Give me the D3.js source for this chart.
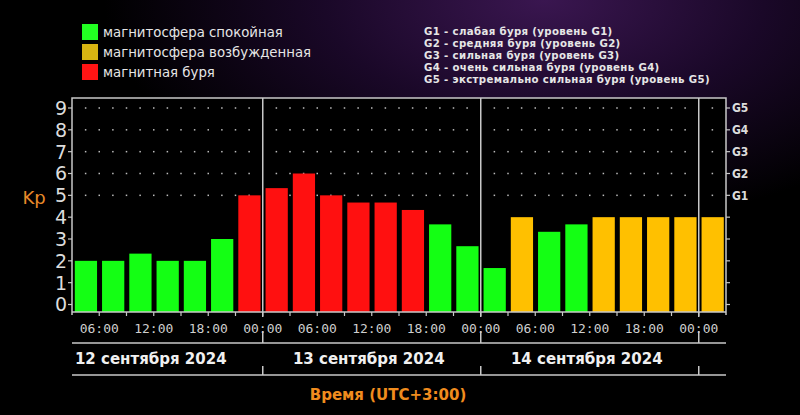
<!DOCTYPE html>
<html><head><meta charset="utf-8">
<script src="https://cdn.jsdelivr.net/npm/d3@7"></script>
<style>html,body{margin:0;padding:0;background:#000;}svg{display:block;}</style>
</head><body>
<svg id="c" width="800" height="415"></svg>
<script>
// ---- data ----
const kpValues = [2, 2, 2.33, 2, 2, 3, 5,
                  5.33, 6, 5, 4.67, 4.67, 4.33, 3.67, 2.67,
                  1.67, 4, 3.33, 3.67, 4, 4, 4, 4,
                  4];
const kpState = ["q","q","q","q","q","q","s",
                 "s","s","s","s","s","s","q","q",
                 "q","a","q","q","a","a","a","a",
                 "a"];
const startHour = 3;         // first bar starts 12 Sep 03:00
const barHours = 3;
const dayLabels = ["12 сентября 2024", "13 сентября 2024", "14 сентября 2024"];
const timeTickLabels = ["06:00","12:00","18:00","00:00","06:00","12:00","18:00","00:00","06:00","12:00","18:00","00:00"];
const kpTicks = [0,1,2,3,4,5,6,7,8,9];
const gLabels = ["G1","G2","G3","G4","G5"];
const gLevels = [5,6,7,8,9];
const legendItems = ["магнитосфера спокойная", "магнитосфера возбужденная", "магнитная буря"];
const legendStates = ["q","a","s"];
const gLegend = ["G1 - слабая буря (уровень G1)",
                 "G2 - средняя буря (уровень G2)",
                 "G3 - сильная буря (уровень G3)",
                 "G4 - очень сильная буря (уровень G4)",
                 "G5 - экстремально сильная буря (уровень G5)"];
const xTitle = "Время (UTC+3:00)";
const yTitle = "Kp";

// ---- layout ----
const barColor = {q:"#14ff14", a:"#ffc000", s:"#ff1010"};
const legendColor = {q:"#22ff22", a:"#d8b512", s:"#ff1414"};
const L = 72, R = 726, T = 98, B = 312;
const endHour = startHour + kpValues.length * barHours;
const x = d3.scaleLinear().domain([startHour, endHour]).range([L, R]);
const y = d3.scaleLinear().domain([0, 9]).range([304.5, 108]);

const svg = d3.select("#c");
const defs = svg.append("defs");
const g1 = defs.append("radialGradient").attr("id","glow").attr("cx","0.68").attr("cy","0.0").attr("r","0.55");
g1.append("stop").attr("offset","0").attr("stop-color","#3a1650");
g1.append("stop").attr("offset","0.5").attr("stop-color","#1a0828");
g1.append("stop").attr("offset","1").attr("stop-color","#000");
svg.append("rect").attr("width",800).attr("height",415).attr("fill","#000");
svg.append("rect").attr("width",800).attr("height",415).attr("fill","url(#glow)");

// plot background
svg.append("rect").attr("x",L).attr("y",T).attr("width",R-L).attr("height",B-T).attr("fill","#000");

// grid dots
const dotXs = d3.range(startHour + 1.5, endHour, 1.5).filter(h => (h % 24) !== 0);
gLevels.forEach(lv => {
  svg.append("g").selectAll("rect").data(dotXs).join("rect")
    .attr("x", d => x(d) - 0.75).attr("y", y(lv) - 0.75)
    .attr("width",1.5).attr("height",1.5).attr("fill","#bbb");
});

// bars
const slot = x(startHour + barHours) - x(startHour);
svg.append("g").selectAll("rect").data(kpValues).join("rect")
  .attr("x", (d,i) => x(startHour + i*barHours) + 2.8)
  .attr("width", slot - 5)
  .attr("y", d => y(d))
  .attr("height", d => B - y(d))
  .attr("fill", (d,i) => barColor[kpState[i]]);

const lineCol = "#c8c8c8";
// frame
svg.append("path").attr("d",`M${L},${B+3}V${T}H${R}V${B+3}`).attr("fill","none").attr("stroke",lineCol).attr("stroke-width",1.5);
svg.append("line").attr("x1",L).attr("x2",R).attr("y1",B).attr("y2",B).attr("stroke",lineCol).attr("stroke-width",1.5);

// day separators
const dayBounds = [24, 48, 72];
dayBounds.forEach(h => {
  const xx = x(h);
  svg.append("line").attr("x1",xx).attr("x2",xx).attr("y1",T).attr("y2",B+5).attr("stroke",lineCol).attr("stroke-width",1.5);
  svg.append("line").attr("x1",xx).attr("x2",xx).attr("y1",331).attr("y2",343).attr("stroke",lineCol).attr("stroke-width",1.5);
  svg.append("line").attr("x1",xx).attr("x2",xx).attr("y1",366).attr("y2",375).attr("stroke",lineCol).attr("stroke-width",1.5);
});

// left axis ticks & labels
kpTicks.forEach(v => {
  svg.append("line").attr("x1",L-4).attr("x2",L).attr("y1",y(v)).attr("y2",y(v)).attr("stroke",lineCol).attr("stroke-width",1.2);
  svg.append("line").attr("x1",R).attr("x2",R+4).attr("y1",y(v)).attr("y2",y(v)).attr("stroke",lineCol).attr("stroke-width",1.2);
});
svg.append("g").selectAll("text").data(kpTicks).join("text")
  .attr("x", 67).attr("y", d => y(d)).attr("dy","0.36em")
  .attr("text-anchor","end").attr("fill","#dcdcdc")
  .attr("font-family","DejaVu Sans, Verdana, sans-serif").attr("font-size",19)
  .text(d => d);

// right G labels
svg.append("g").selectAll("text").data(gLabels).join("text")
  .attr("x", 732).attr("y", (d,i) => y(gLevels[i])).attr("dy","0.36em")
  .attr("fill","#dcdcdc").attr("font-weight","bold")
  .attr("font-family","DejaVu Sans Condensed, DejaVu Sans, sans-serif").attr("font-size",12)
  .text(d => d);

// bottom ticks
const tickHours = d3.range(startHour + barHours, endHour, barHours);
svg.append("g").selectAll("line").data(tickHours).join("line")
  .attr("x1", d => x(d)).attr("x2", d => x(d)).attr("y1",B).attr("y2",B+4)
  .attr("stroke",lineCol).attr("stroke-width",1.2);

// time labels
svg.append("g").selectAll("text").data(timeTickLabels).join("text")
  .attr("x", (d,i) => x(6 + 6*i)).attr("y", 328).attr("dy","0.36em")
  .attr("text-anchor","middle").attr("fill","#cfcfcf")
  .attr("font-family","DejaVu Sans Mono, monospace").attr("font-size",13)
  .text(d => d);

// date rows
svg.append("line").attr("x1",L).attr("x2",R).attr("y1",343).attr("y2",343).attr("stroke",lineCol).attr("stroke-width",1.5);
svg.append("line").attr("x1",L).attr("x2",R).attr("y1",375).attr("y2",375).attr("stroke",lineCol).attr("stroke-width",1.5);
svg.append("g").selectAll("text").data(dayLabels).join("text")
  .attr("x", (d,i) => x(24*i + 12) - 3).attr("y", 359).attr("dy","0.36em")
  .attr("text-anchor","middle").attr("fill","#f0f0f0").attr("font-weight","bold")
  .attr("font-family","DejaVu Sans, Verdana, sans-serif").attr("font-size",15)
  .text(d => d);

// axis titles
svg.append("text").attr("x",388).attr("y",395).attr("dy","0.36em").attr("text-anchor","middle")
  .attr("fill","#f08c1e").attr("font-weight","bold")
  .attr("font-family","DejaVu Sans, Verdana, sans-serif").attr("font-size",15).text(xTitle);
svg.append("text").attr("x",34).attr("y",198).attr("dy","0.36em").attr("text-anchor","middle")
  .attr("fill","#e88a2a")
  .attr("font-family","DejaVu Sans, Verdana, sans-serif").attr("font-size",18).text(yTitle);

// legend (left)
legendItems.forEach((t,i) => {
  const cy = 32 + 20*i;
  svg.append("rect").attr("x",82).attr("y",cy-8).attr("width",16).attr("height",16).attr("fill",legendColor[legendStates[i]]);
  svg.append("text").attr("x",103).attr("y",cy).attr("dy","0.36em").attr("fill","#e6e6e6")
    .attr("font-family","DejaVu Sans, Verdana, sans-serif").attr("font-size",13.3).text(t);
});
// legend (right)
svg.append("g").selectAll("text").data(gLegend).join("text")
  .attr("x",424).attr("y",(d,i) => 31 + 12*i).attr("dy","0.36em")
  .attr("fill","#e6e6e6").attr("font-weight","bold")
  .attr("font-family","DejaVu Sans, sans-serif").attr("font-size",10.2)
  .attr("letter-spacing",0.35)
  .text(d => d);
</script>
</body></html>
